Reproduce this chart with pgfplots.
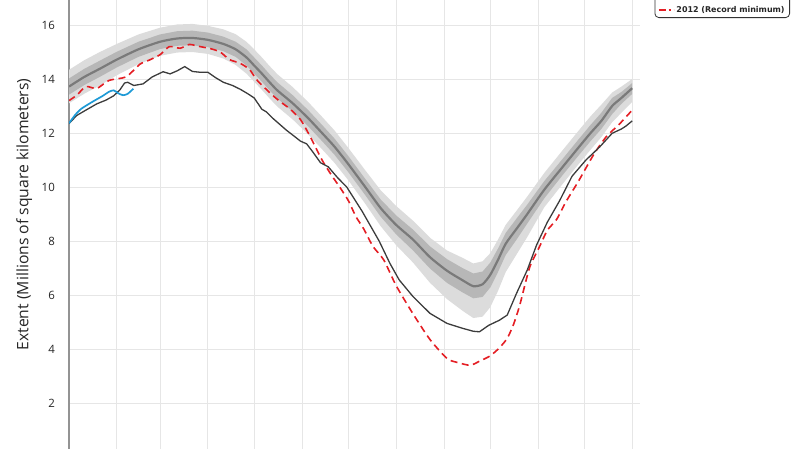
\documentclass[border=0pt]{standalone}
\usepackage{fontspec}
\setmainfont{Open Sans}
\newfontfamily\legfont{DejaVu Sans}
\usepackage{pgfplots}
\usepackage{pgfplotstable}
\pgfplotsset{compat=1.18}
\usepgfplotslibrary{fillbetween}

\definecolor{idr}{HTML}{DCDCDC}
\definecolor{iqr}{HTML}{B7B7B7}
\definecolor{avgc}{HTML}{7A7A7A}
\definecolor{rec}{HTML}{E41E24}
\definecolor{lastyr}{HTML}{3C3C3C}
\definecolor{curyr}{HTML}{1E9AD6}
\definecolor{gridc}{HTML}{E6E6E6}

\pgfplotstableread{
d avg q25 q75 p10 p90
0 13.72 13.42 14.02 13.10 14.34
10 14.08 13.78 14.38 13.46 14.70
20 14.38 14.08 14.68 13.76 15.00
31 14.72 14.43 15.01 14.14 15.30
45 15.10 14.82 15.38 14.55 15.65
59 15.38 15.11 15.65 14.86 15.90
70 15.50 15.23 15.77 14.98 16.02
80 15.52 15.25 15.79 15.00 16.04
90 15.45 15.18 15.72 14.93 15.97
100 15.30 15.03 15.57 14.76 15.84
108 15.10 14.82 15.38 14.52 15.66
115 14.80 14.50 15.10 14.20 15.38
120 14.50 14.20 14.80 13.90 15.10
125 14.20 13.90 14.50 13.60 14.80
130 13.88 13.58 14.18 13.28 14.48
135 13.58 13.28 13.88 12.98 14.18
145 13.10 12.80 13.40 12.50 13.70
155 12.55 12.25 12.85 11.95 13.15
164 12.00 11.70 12.30 11.40 12.60
172 11.50 11.20 11.80 10.90 12.10
181 10.85 10.55 11.15 10.25 11.45
192 10.00 9.70 10.30 9.38 10.62
202 9.22 8.90 9.54 8.55 9.88
212 8.60 8.25 8.95 7.85 9.30
223 8.05 7.65 8.42 7.20 8.75
234 7.40 6.98 7.80 6.45 8.12
245 6.90 6.45 7.33 5.85 7.65
255 6.55 6.10 7.00 5.42 7.38
262 6.33 5.88 6.80 5.15 7.17
268 6.40 5.93 6.87 5.20 7.25
273 6.75 6.28 7.20 5.55 7.55
278 7.30 6.85 7.72 6.15 8.05
283 7.90 7.48 8.30 6.85 8.60
290 8.45 8.05 8.83 7.50 9.12
297 9.00 8.65 9.35 8.15 9.65
308 9.90 9.58 10.22 9.25 10.52
320 10.75 10.45 11.05 10.12 11.37
330 11.45 11.15 11.75 10.83 12.07
338 12.00 11.70 12.30 11.38 12.62
345 12.45 12.15 12.75 11.85 13.05
352 13.00 12.70 13.30 12.40 13.50
358 13.30 13.08 13.52 12.75 13.72
365 13.66 13.45 13.85 13.15 14.00
}\clim

\pgfplotstableread{
d v
0 13.20
5 13.40
11 13.72
18 13.65
26 13.95
37 14.08
46 14.55
52 14.70
59 14.90
65 15.20
72 15.14
78 15.28
85 15.20
92 15.12
98 15.00
104 14.72
111 14.58
117 14.35
122 13.95
130 13.50
136 13.20
143 12.90
150 12.50
156 11.90
164 11.00
170 10.45
176 9.95
181 9.50
186 8.90
191 8.45
197 7.80
204 7.30
212 6.35
223 5.30
234 4.35
245 3.65
252 3.50
260 3.40
266 3.55
273 3.75
279 4.05
284 4.40
288 4.90
292 5.60
296 6.50
299 7.10
305 7.80
310 8.40
316 8.80
322 9.45
330 10.20
340 11.20
348 11.85
357 12.35
365 12.85
}\recmin

\pgfplotstableread{
d v
0 12.35
5 12.65
11 12.85
18 13.08
24 13.22
29 13.38
33 13.60
36 13.85
38 13.88
42 13.76
48 13.82
54 14.08
61 14.27
65.5 14.19
70 14.30
75 14.46
80 14.28
85 14.25
90 14.25
95 14.05
100 13.88
106 13.76
111 13.62
116 13.45
120 13.30
125 12.88
128 12.78
132 12.55
137 12.30
141 12.10
146 11.88
150 11.70
154 11.60
158 11.30
163 10.90
168 10.75
174 10.35
180 10.00
185 9.55
190 9.10
195 8.60
201 8.00
208 7.17
214 6.56
223 5.94
234 5.32
245 4.95
255 4.77
262 4.66
266 4.64
272 4.88
279 5.07
284 5.26
290 6.06
297 6.93
303 7.85
310 8.70
318 9.50
326 10.40
335 11.00
344 11.49
352 11.99
358 12.15
361 12.26
365 12.45
}\lastyear

\pgfplotstableread{
d v
0 12.36
4 12.67
8 12.90
15 13.15
22 13.38
26 13.53
29 13.58
32 13.47
35 13.40
38 13.45
41.7 13.64
}\curyear

\begin{document}
\begin{tikzpicture}
\begin{axis}[
  at={(69bp,0bp)}, anchor=south west,
  scale only axis, width=571bp, height=449bp,
  xmin=0, xmax=370.05, ymin=0.30, ymax=16.926,
  enlargelimits=false,
  axis lines=left,
  x axis line style={draw=none},
  y axis line style={draw=gray!85, line width=1.6bp, -},
  tick style={draw=none},
  major tick length=0pt,
  xtick={0,31,59,90,120,151,181,212,243,273,304,334,365},
  xticklabels={},
  ytick={2,4,6,8,10,12,14,16},
  grid=major,
  major grid style={draw=gridc, line width=0.8bp},
  /pgf/number format/assume math mode=true,
  yticklabel style={anchor=east, inner sep=0pt, xshift=-14bp, font=\fontsize{11.5}{13}\selectfont, text=black!85},
  ylabel={Extent (Millions of square kilometers)},
  ylabel style={at={(axis description cs:-0.0713,0.5223)}, anchor=base, font=\fontsize{15.8}{18}\selectfont, text=black!85},
  legend cell align=left,
  legend style={at={(axis description cs:1.2627,0.9599)}, anchor=south east,
    draw=black!80, line width=0.8bp, rounded corners=4bp, fill=white,
    font=\legfont\bfseries\fontsize{8}{10}\selectfont, text=black!85,
    inner xsep=3bp, inner ysep=2bp},
  legend image code/.code={\draw[#1] (0bp,0bp) -- (15bp,0bp);},
]
\addplot[draw=none, name path=p90, forget plot] table[x=d,y=p90]{\clim};
\addplot[draw=none, name path=p10, forget plot] table[x=d,y=p10]{\clim};
\addplot[fill=idr, draw=none, forget plot] fill between[of=p90 and p10];
\addplot[draw=none, name path=q75, forget plot] table[x=d,y=q75]{\clim};
\addplot[draw=none, name path=q25, forget plot] table[x=d,y=q25]{\clim};
\addplot[fill=iqr, draw=none, forget plot] fill between[of=q75 and q25];
\addplot[avgc, line width=2.2bp, smooth, tension=0.4, forget plot] table[x=d,y=avg]{\clim};
\addplot[rec, line width=1.6bp, dash pattern=on 7bp off 4.5bp, smooth, tension=0.4, forget plot] table[x=d,y=v]{\recmin};
\addplot[lastyr, line width=1.3bp, forget plot] table[x=d,y=v]{\lastyear};
\addplot[curyr, line width=1.7bp, smooth, tension=0.4, forget plot] table[x=d,y=v]{\curyear};

\addlegendimage{empty legend}\addlegendentry{\strut}
\addlegendimage{empty legend}\addlegendentry{\strut}
\addlegendimage{rec, line width=1.6bp, dash pattern=on 7bp off 3bp on 2bp off 3bp}
\addlegendentry{2012 (Record minimum)}
\end{axis}
\pgfresetboundingbox
\path[use as bounding box] (0,0) rectangle (800bp,449bp);
\end{tikzpicture}
\end{document}
